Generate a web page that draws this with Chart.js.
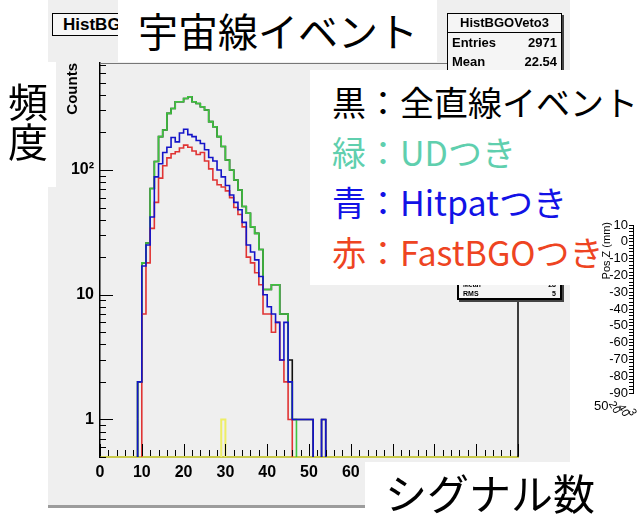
<!DOCTYPE html>
<html lang="ja"><head><meta charset="utf-8">
<title>宇宙線イベント</title>
<script src="https://cdn.jsdelivr.net/npm/chart.js@4.4.1/dist/chart.umd.min.js"></script>
<style>
html,body{margin:0;padding:0;background:#fff;overflow:hidden;}
#stage{position:relative;width:641px;height:518px;overflow:hidden;background:#fff;}
#rootpad{position:absolute;left:48px;top:0;width:522px;height:505px;background:#efefef;border-bottom:3px solid #9c9c9c;}
canvas{position:absolute;}
.w{position:absolute;background:#fff;}
.jp{font-family:"Noto Sans CJK JP","Noto Sans CJK SC",sans-serif;}
.rb{font-family:"Liberation Sans",Arial,sans-serif;font-weight:bold;}
#histtitle{position:absolute;left:52px;top:13px;width:80px;height:23px;border:1px solid #000;background:#f7f7f7;overflow:hidden;white-space:nowrap;font-size:17px;line-height:22px;padding-left:10px;box-sizing:border-box;}
#counts{position:absolute;left:63px;top:63px;writing-mode:vertical-rl;transform:rotate(180deg);font-size:15px;line-height:18px;}
.stats{position:absolute;background:#f5f5f5;border:1px solid #000;box-shadow:2px 2px 0 #444;box-sizing:border-box;font-size:13px;}
.stats .t{height:18px;line-height:18px;text-align:center;border-bottom:1px solid #000;}
.stats .r{display:flex;justify-content:space-between;padding:0 4px;height:19px;line-height:19px;}
#stats2{left:457px;top:200px;width:105px;height:100px;border-width:2px;font-size:7px;}
#stats2 .r{height:9px;line-height:9px;}
#title{left:118px;top:0;width:319px;height:62px;font-size:40px;line-height:60px;padding-left:20px;box-sizing:border-box;white-space:nowrap;}
#ylab{left:0;top:62px;width:56px;height:125px;}
#ylab span{position:absolute;left:7px;top:20px;writing-mode:vertical-rl;font-size:40px;line-height:42px;}
#legend{left:310px;top:70px;width:331px;height:215px;padding-left:22px;padding-top:7px;box-sizing:border-box;font-size:34px;}
#legend div{height:50px;line-height:50px;white-space:nowrap;}
#xlab{left:365px;top:462px;width:276px;height:56px;font-size:42px;line-height:60px;padding-left:20px;box-sizing:border-box;white-space:nowrap;}
.lib{position:absolute;font-family:"Liberation Sans",Arial,sans-serif;color:#000;white-space:nowrap;}
</style>
</head>
<body>
<div id="stage">
  <div id="rootpad"></div>
  <div id="histtitle" class="rb">HistBGOVeto3</div>
  <canvas id="main" width="641" height="518" style="left:0;top:0;"></canvas>
  <div id="counts" class="rb">Counts</div>
  <div id="stats1" class="stats rb" style="left:447px;top:13px;width:115px;height:90px;">
    <div class="t">HistBGOVeto3</div>
    <div class="r"><span>Entries</span><span>2971</span></div>
    <div class="r"><span>Mean</span><span>22.54</span></div>
    <div class="r"><span>RMS</span><span>6.02</span></div>
  </div>
  <div id="stats2" class="stats rb">
    <div style="height:78px;"></div>
    <div class="r"><span>Mean</span><span>28</span></div>
    <div class="r"><span>RMS</span><span>5</span></div>
  </div>
  <div id="title" class="w jp">宇宙線イベント</div>
  <div id="ylab" class="w jp"><span>頻度</span></div>
  <div id="legend" class="w jp">
    <div style="color:#000;">黒：全直線イベント</div>
    <div style="color:#5fcfae;">緑：UDつき</div>
    <div style="color:#1212e6;">青：Hitpatつき</div>
    <div style="color:#ee4422;">赤：FastBGOつき</div>
  </div>
  <div id="xlab" class="w jp">シグナル数</div>
  <canvas id="posz" width="61" height="200" style="left:580px;top:215px;"></canvas>
  <div class="lib" style="left:600px;top:222px;writing-mode:vertical-rl;transform:rotate(180deg);font-size:11px;">Pos Z (mm)</div>
  <div class="lib" style="left:594px;top:398px;font-size:13px;">50</div>
  <div class="lib" style="left:609px;top:401px;font-size:11px;transform:rotate(60deg);">20</div>
  <div class="lib" style="left:618px;top:404px;font-size:11px;transform:rotate(60deg);">40</div>
  <div class="lib" style="left:630px;top:406px;font-size:11px;transform:rotate(60deg);">3</div>
</div>
<script>
// ---- data (counts per 1-unit bin, first bin = BIN_START) ----
const BIN_START = 8;
const blackAll   = [0,2,18,26,71,117,185,209,284,311,352,352,374,386,352,341,321,302,244,222,185,154,120,100,83,69,51,45,35,31,23,11,11,12,12,7,7,3,1,1,1,1,1,0,0,1,0];
const greenUD    = [0,2,18,26,71,117,185,209,284,311,352,352,374,386,352,341,321,302,244,222,185,154,120,100,83,69,51,45,35,31,23,11,11,12,12,7,7,2,1,0,0,0,0,0,0,0,0];
const blueHitpat = [0,2,17,25,42,88,112,138,152,182,168,198,212,192,185,172,163,145,126,118,100,88,75,63,55,48,38,25,22,19,14,10,8,7,6,3,6,2,1,1,1,1,1,0,0,1,0];
const redFastBGO = [0,0,7,18,34,55,86,108,125,135,140,150,158,152,142,133,138,118,102,83,76,73,68,60,50,44,35,20,18,15,12,7,7,5,6,3,2,1,0,0,0,0,0,0,0,0,0];
const YELLOW_START = 29;
const yellowOther = [1];
// ---- axes ----
const X_MIN = 0, X_MAX = 100;
const Y_MIN = 0.5, Y_MAX = 720;
const xTickLabels = [0,10,20,30,40,50,60,70,80,90,100];
const yTickValues = [1,10,100];
const yTickLabels = ['1','10','10²'];
const posZTicks = [10,0,-10,-20,-30,-40,-50,-60,-70,-80,-90];
const ZERO_FLOOR = 0.3;

function histPoints(start, counts){
  const pts = [{x:start-1, y:ZERO_FLOOR}];
  counts.forEach((c,i)=>pts.push({x:start+i, y:c>0?c:ZERO_FLOOR}));
  pts.push({x:start+counts.length, y:ZERO_FLOOR});
  return pts;
}
function ds(label, start, counts, color, w){
  return {label, data:histPoints(start,counts), borderColor:color, borderWidth:w,
          stepped:'before', pointRadius:0, fill:false, tension:0};
}

const rootTicks = {
  id:'rootTicks',
  afterDatasetsDraw(chart){
    const {ctx, chartArea:a, scales:{x,y}} = chart;
    ctx.save();
    ctx.lineWidth = 1;
    ctx.strokeStyle = '#000';
    ctx.beginPath();
    for(let v=X_MIN; v<=X_MAX; v+=2){
      const px = Math.round(x.getPixelForValue(v))+0.5;
      const len = (v%10===0)?12:6;
      ctx.moveTo(px, a.bottom-1); ctx.lineTo(px, a.bottom-1-len);
    }
    [0.1,1,10,100].forEach(d=>{
      for(let m=1;m<=9;m++){
        const v=m*d;
        if(v<Y_MIN||v>Y_MAX) continue;
        const py = Math.round(y.getPixelForValue(v))+0.5;
        const len = (m===1)?13:6;
        ctx.moveTo(a.left, py); ctx.lineTo(a.left+len, py);
      }
    });
    ctx.stroke();
    ctx.beginPath();
    ctx.strokeStyle = '#777';
    ctx.moveTo(a.left, a.top+0.5); ctx.lineTo(a.right, a.top+0.5);
    ctx.stroke();
    ctx.beginPath();
    ctx.strokeStyle = '#000';
    ctx.lineWidth = 1.5;
    ctx.moveTo(a.right, a.top); ctx.lineTo(a.right, a.bottom);
    ctx.stroke();
    ctx.restore();
  }
};

const tickFont = {family:'"Liberation Sans Narrow","Liberation Sans",Arial,sans-serif', size:16, weight:'bold'};

new Chart(document.getElementById('main'), {
  type:'line',
  data:{datasets:[
    ds('yellow', YELLOW_START, yellowOther, '#eeee66', 2),
    ds('青:Hitpatつき', BIN_START, blueHitpat, '#1414c8', 1.6),
    ds('赤:FastBGOつき', BIN_START, redFastBGO, '#e03434', 1.6),
    ds('緑:UDつき', BIN_START, greenUD, '#3fc43f', 1.6),
    ds('黒:全直線イベント', BIN_START, blackAll, '#111111', 1.6)
  ]},
  options:{
    responsive:false, animation:false, devicePixelRatio:1,
    layout:{padding:{left:50, top:63, right:123, bottom:20}},
    plugins:{legend:{display:false}, tooltip:{enabled:false}},
    scales:{
      x:{type:'linear', min:X_MIN, max:X_MAX,
         afterFit(s){ s.height = 41; },
         afterBuildTicks(s){ s.ticks = xTickLabels.map(v=>({value:v})); },
         grid:{display:false, drawTicks:false},
         border:{display:true, color:'#c9c94c', width:2},
         ticks:{padding:6, color:'#000', font:tickFont, maxRotation:0, autoSkip:false, callback:v=>String(v)}},
      y:{type:'logarithmic', min:Y_MIN, max:Y_MAX,
         afterFit(s){ s.width = 50; },
         afterBuildTicks(s){ s.ticks = yTickValues.map(v=>({value:v})); },
         grid:{display:false, drawTicks:false},
         border:{display:true, color:'#000', width:1.5},
         ticks:{padding:6, color:'#000', font:tickFont, autoSkip:false,
                callback:v=>{ const i=yTickValues.indexOf(v); return i>=0?yTickLabels[i]:''; }}}
    }
  },
  plugins:[rootTicks]
});

new Chart(document.getElementById('posz'), {
  type:'line',
  data:{datasets:[]},
  options:{
    responsive:false, animation:false, devicePixelRatio:1,
    layout:{padding:{left:0, top:10, right:0, bottom:22}},
    plugins:{legend:{display:false}, tooltip:{enabled:false}},
    scales:{
      x:{type:'linear', display:false, min:0, max:1},
      y:{type:'linear', min:-90, max:10,
         afterFit(s){ s.width = 53; },
         grid:{display:true, drawOnChartArea:false, drawTicks:true, tickLength:4, color:'#000', tickColor:'#000'},
         border:{display:true, color:'#000', width:1},
         ticks:{stepSize:2, autoSkip:false, padding:1, color:'#000',
                font:{family:'"Liberation Sans",Arial,sans-serif', size:13},
                callback:v=> posZTicks.includes(v) ? String(v) : ''}}
    }
  }
});
</script>
</body></html>
